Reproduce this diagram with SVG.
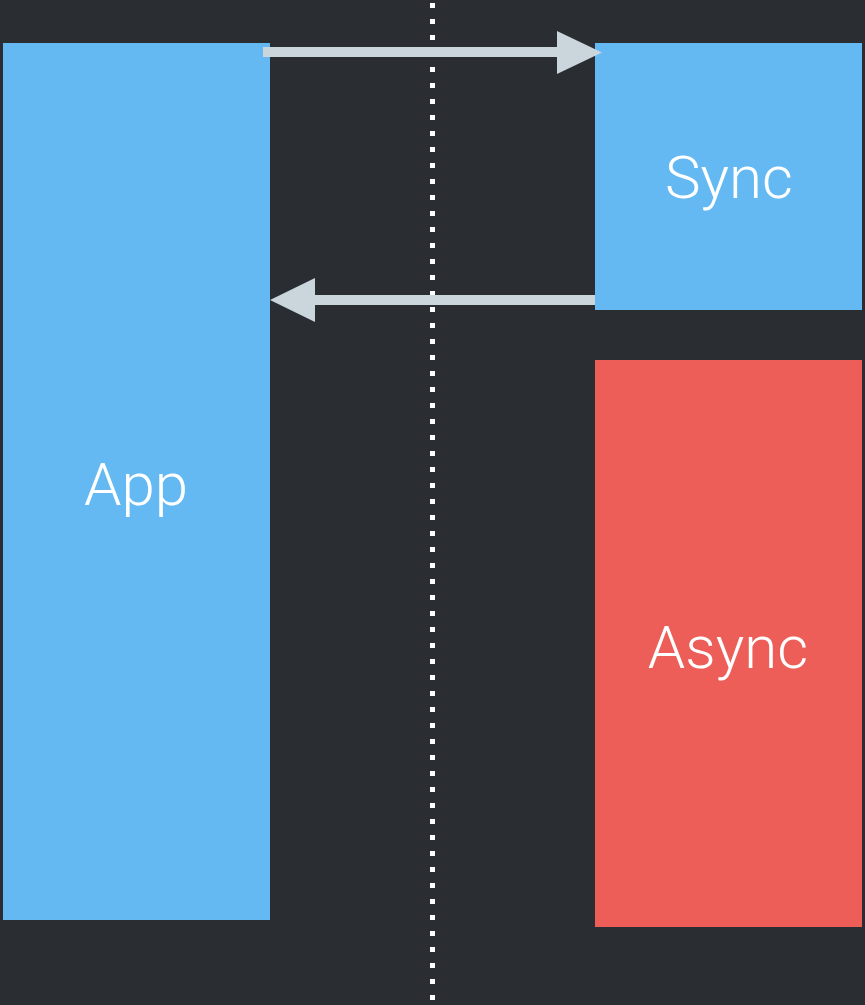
<svg xmlns="http://www.w3.org/2000/svg" width="865" height="1005" viewBox="0 0 865 1005">
<style>
.lbl{font-family:Roboto,"Liberation Sans",sans-serif;font-weight:300;font-size:60px;fill:#ffffff;text-anchor:middle}
.blue{fill:#64b9f2}
.red{fill:#ec5e57}
.arr{stroke:#cbd5dc;stroke-width:10;fill:none}
.head{fill:#cbd5dc}
</style>
<rect width="865" height="1005" fill="#2a2e33"/>
<line x1="432.5" y1="3" x2="432.5" y2="1005" stroke="#ffffff" stroke-width="5" stroke-dasharray="5 11"/>
<g id="app"><rect class="blue" x="3" y="43" width="267" height="877"/><text class="lbl" x="136" y="505">App</text></g>
<g id="sync"><rect class="blue" x="595" y="43" width="267" height="267"/><text class="lbl" x="729" y="198">Sync</text></g>
<g id="async"><rect class="red" x="595" y="360" width="267" height="567"/><text class="lbl" x="728" y="668">Async</text></g>
<g id="connectors">
<line class="arr" x1="263" y1="52" x2="559" y2="52"/>
<polygon class="head" points="557,31 602,52.5 557,74"/>
<line class="arr" x1="595" y1="300" x2="313" y2="300"/>
<polygon class="head" points="315,278 270,300 315,322"/>
</g>
</svg>
